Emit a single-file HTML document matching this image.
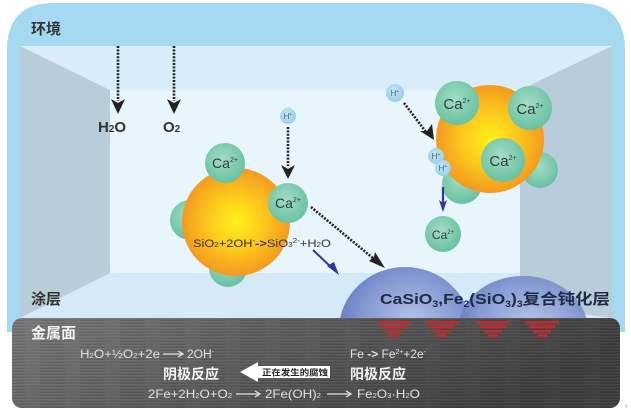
<!DOCTYPE html>
<html><head><meta charset="utf-8"><style>
html,body{margin:0;padding:0;background:#fff;}
svg{display:block;font-family:"Liberation Sans","Noto Sans CJK SC",sans-serif;}
</style></head><body>
<svg width="631" height="413" viewBox="0 0 631 413" xmlns="http://www.w3.org/2000/svg">
<defs>
<radialGradient id="sun" cx="0.5" cy="0.5" r="0.5">
<stop offset="0" stop-color="#fff21a"/><stop offset="0.55" stop-color="#fcc51c"/><stop offset="1" stop-color="#f39a1f"/>
</radialGradient>
<radialGradient id="grn" cx="0.45" cy="0.4" r="0.6">
<stop offset="0" stop-color="#a3dcc6"/><stop offset="1" stop-color="#68c1a2"/>
</radialGradient>
<radialGradient id="hh" cx="0.45" cy="0.4" r="0.6">
<stop offset="0" stop-color="#c9e9f7"/><stop offset="1" stop-color="#94cfea"/>
</radialGradient>
<radialGradient id="dome" cx="0.55" cy="0.45" r="0.6">
<stop offset="0" stop-color="#b3c2e8"/><stop offset="0.6" stop-color="#879bd4"/><stop offset="1" stop-color="#6479bf"/>
</radialGradient>
<linearGradient id="metal" x1="0" y1="0" x2="1" y2="0.3">
<stop offset="0" stop-color="#777"/><stop offset="0.5" stop-color="#5a5a5a"/><stop offset="1" stop-color="#3e3e3e"/>
</linearGradient>
<pattern id="brush" width="40" height="3" patternUnits="userSpaceOnUse">
<rect width="40" height="1" y="0" fill="#fff" opacity="0.05"/>
<rect width="25" height="1" y="2" fill="#000" opacity="0.1"/>
</pattern>
</defs>
<rect width="631" height="413" fill="#fff"/>
<path d="M7,50 Q7,3 54,3 L578,3 Q625,3 625,50 L625,332 L7,332 Z" fill="#a5d9f2"/>
<rect x="20" y="46" width="592" height="280" fill="#e8f5fd"/>
<polygon points="20,46 612,46 520,90 110,90" fill="#d8ecf9"/>
<polygon points="110,273 520,273 520,305 612,318 20,318" fill="#d5e9f7"/>
<polygon points="20,46 110,90 110,273 20,318" fill="#b8cdd9"/>
<polygon points="612,46 520,90 520,305 612,318" fill="#b8cdd9"/>

<text x="31" y="34" font-size="15" font-weight="bold" fill="#333">环境</text>
<text x="31" y="304" font-size="15" font-weight="bold" fill="#333">涂层</text>

<g stroke="#222" stroke-width="2.6" stroke-dasharray="2 1.4" fill="none">
<line x1="118" y1="46" x2="118" y2="101"/>
<line x1="174" y1="46" x2="174" y2="101"/>
<line x1="288" y1="127" x2="288" y2="166"/>
<line x1="404" y1="103" x2="426" y2="132"/>
<line x1="311" y1="207" x2="374" y2="259"/>
</g>
<g fill="#222">
<polygon points="111,99 118,103 125,99 118,114"/>
<polygon points="167,99 174,103 181,99 174,114"/>
<polygon points="281,165 288,169 295,165 288,179"/>
<polygon points="420,131 427,131 432,124 434,140"/>
<polygon points="369,261 374,257 375,252 385,268"/>
</g>
<text x="98" y="132" font-size="15" font-weight="bold" fill="#333">H<tspan font-size="10" dy="0">2</tspan>O</text>
<text x="163" y="132" font-size="15" font-weight="bold" fill="#333">O<tspan font-size="10">2</tspan></text>

<circle cx="190" cy="220" r="20" fill="url(#grn)"/>
<circle cx="228" cy="268" r="19" fill="url(#grn)"/>
<circle cx="236" cy="222" r="54" fill="url(#sun)"/>
<circle cx="225" cy="163" r="20" fill="url(#grn)"/>
<circle cx="288" cy="203" r="20" fill="url(#grn)"/>
<text x="225" y="168" text-anchor="middle" fill="#2f3f37"><tspan font-size="14">Ca</tspan><tspan font-size="7" dy="-6">2+</tspan></text>
<text x="288" y="208" text-anchor="middle" fill="#2f3f37"><tspan font-size="14">Ca</tspan><tspan font-size="7" dy="-6">2+</tspan></text>
<text x="193" y="247" font-size="11" fill="#333" textLength="138" lengthAdjust="spacingAndGlyphs">SiO<tspan font-size="7">2</tspan>+2OH<tspan font-size="7" dy="-4">-</tspan><tspan dy="4" font-weight="bold">-&gt;</tspan>SiO<tspan font-size="7">3</tspan><tspan font-size="7" dy="-4">2-</tspan><tspan dy="4">+H</tspan><tspan font-size="7">2</tspan>O</text>

<circle cx="288" cy="116" r="8" fill="url(#hh)"/>
<text x="288" y="119" text-anchor="middle" fill="#4a6270"><tspan font-size="8">H</tspan><tspan font-size="5" dy="-3">+</tspan></text>

<line x1="313" y1="250" x2="332" y2="268" stroke="#2b3b96" stroke-width="2"/>
<polygon points="327,266 334,262 339,275" fill="#2b3b96"/>

<circle cx="462" cy="184" r="20" fill="url(#grn)"/>
<circle cx="540" cy="170" r="18" fill="url(#grn)"/>
<circle cx="490" cy="139" r="54" fill="url(#sun)"/>
<circle cx="457" cy="103" r="22" fill="url(#grn)"/>
<circle cx="530" cy="108" r="22" fill="url(#grn)"/>
<circle cx="503" cy="160" r="22" fill="url(#grn)"/>
<text x="457" y="109" text-anchor="middle" fill="#2f3f37"><tspan font-size="15">Ca</tspan><tspan font-size="7" dy="-6">2+</tspan></text>
<text x="530" y="114" text-anchor="middle" fill="#2f3f37"><tspan font-size="15">Ca</tspan><tspan font-size="7" dy="-6">2+</tspan></text>
<text x="503" y="166" text-anchor="middle" fill="#2f3f37"><tspan font-size="15">Ca</tspan><tspan font-size="7" dy="-6">2+</tspan></text>

<circle cx="395" cy="93" r="9" fill="url(#hh)"/>
<text x="395" y="96" text-anchor="middle" fill="#4a6270"><tspan font-size="8">H</tspan><tspan font-size="5" dy="-3">+</tspan></text>
<circle cx="436" cy="156" r="8" fill="url(#hh)"/>
<circle cx="443" cy="168" r="8" fill="url(#hh)"/>
<text x="436" y="159" text-anchor="middle" fill="#4a6270"><tspan font-size="8">H</tspan><tspan font-size="5" dy="-3">+</tspan></text>
<text x="443" y="171" text-anchor="middle" fill="#4a6270"><tspan font-size="8">H</tspan><tspan font-size="5" dy="-3">+</tspan></text>

<line x1="443" y1="187" x2="443" y2="203" stroke="#2b3b96" stroke-width="2.2"/>
<polygon points="439,200 443,203 447,200 443,212" fill="#2b3b96"/>
<circle cx="443" cy="234" r="18" fill="url(#grn)"/>
<text x="443" y="239" text-anchor="middle" fill="#2f3f37"><tspan font-size="12">Ca</tspan><tspan font-size="6" dy="-5">2+</tspan></text>

<ellipse cx="405" cy="330" rx="66" ry="63" fill="url(#dome)"/>
<ellipse cx="523" cy="330" rx="65" ry="54" fill="url(#dome)" opacity="0.95"/>
<text x="380" y="304" font-size="15" font-weight="bold" fill="#1f2a44" textLength="230" lengthAdjust="spacingAndGlyphs">CaSiO<tspan font-size="9" dy="3">3</tspan><tspan dy="-3">,Fe</tspan><tspan font-size="9" dy="3">2</tspan><tspan dy="-3">(SiO</tspan><tspan font-size="9" dy="3">3</tspan><tspan dy="-3">)</tspan><tspan font-size="9" dy="3">3</tspan><tspan dy="-3">复合钝化层</tspan></text>

<rect x="12" y="318" width="608" height="90" rx="10" fill="url(#metal)"/>
<rect x="12" y="318" width="608" height="90" rx="10" fill="url(#brush)"/>
<text x="31" y="338" font-size="15" font-weight="bold" fill="#f2f2f2">金属面</text>

<g fill="#c8292c">
<rect x="377" y="321" width="34" height="2.6"/><rect x="381" y="325.5" width="26" height="2.6"/><rect x="385" y="330" width="18" height="2.6"/><rect x="389" y="334.5" width="10" height="2.6"/>
<rect x="425" y="321" width="34" height="2.6"/><rect x="429" y="325.5" width="26" height="2.6"/><rect x="433" y="330" width="18" height="2.6"/><rect x="437" y="334.5" width="10" height="2.6"/>
<rect x="476" y="321" width="34" height="2.6"/><rect x="480" y="325.5" width="26" height="2.6"/><rect x="484" y="330" width="18" height="2.6"/><rect x="488" y="334.5" width="10" height="2.6"/>
<rect x="525" y="321" width="34" height="2.6"/><rect x="529" y="325.5" width="26" height="2.6"/><rect x="533" y="330" width="18" height="2.6"/><rect x="537" y="334.5" width="10" height="2.6"/>
</g>

<g fill="#e2e2e2" font-size="12">
<text x="80" y="358" textLength="80" lengthAdjust="spacingAndGlyphs">H<tspan font-size="7">2</tspan>O+½O<tspan font-size="7">2</tspan>+2e</text>
<text x="187" y="358">2OH<tspan font-size="7" dy="-4">-</tspan></text>
<text x="350" y="358" textLength="76" lengthAdjust="spacingAndGlyphs">Fe <tspan font-weight="bold">-&gt;</tspan> Fe<tspan font-size="7" dy="-4">2+</tspan><tspan dy="4">+2e</tspan><tspan font-size="7" dy="-4">-</tspan></text>
<text x="148" y="398" textLength="84" lengthAdjust="spacingAndGlyphs">2Fe+2H<tspan font-size="7">2</tspan>O+O<tspan font-size="7">2</tspan></text>
<text x="265" y="398" textLength="56" lengthAdjust="spacingAndGlyphs">2Fe(OH)<tspan font-size="7">2</tspan></text>
<text x="357" y="398" textLength="63" lengthAdjust="spacingAndGlyphs">Fe<tspan font-size="7">2</tspan>O<tspan font-size="7">3</tspan>·H<tspan font-size="7">2</tspan>O</text>
</g>
<g stroke="#e2e2e2" stroke-width="1.3" fill="none">
<line x1="163" y1="354" x2="182" y2="354"/><polyline points="178,351 183,354 178,357"/>
<line x1="236" y1="394" x2="259" y2="394"/><polyline points="255,391 260,394 255,397"/>
<line x1="327" y1="394" x2="350" y2="394"/><polyline points="346,391 351,394 346,397"/>
</g>
<text x="163" y="379" font-size="14" font-weight="bold" fill="#f4f4f4">阴极反应</text>
<text x="350" y="379" font-size="14" font-weight="bold" fill="#f4f4f4">阳极反应</text>

<polygon points="240,372 258,362 258,366 330,366 330,378 258,378 258,382" fill="#fff"/>
<text x="262" y="375.5" font-size="8.5" font-weight="bold" fill="#222" textLength="66" lengthAdjust="spacingAndGlyphs">正在发生的腐蚀</text>

<text x="625" y="408" font-size="8" fill="#999">‹</text>
</svg>
</body></html>
